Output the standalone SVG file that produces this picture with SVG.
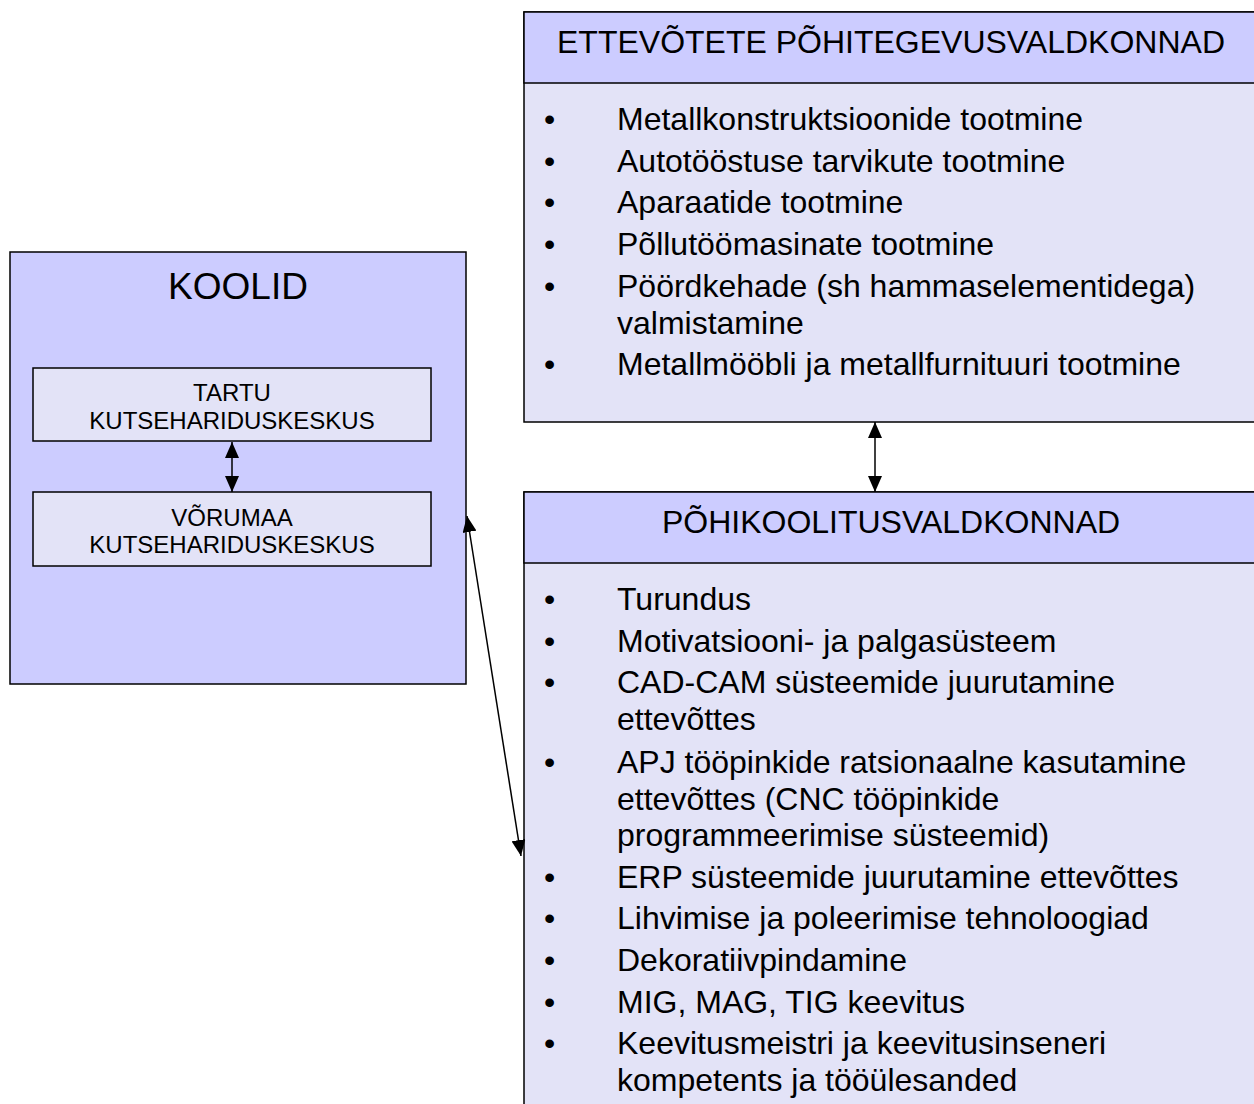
<svg xmlns="http://www.w3.org/2000/svg" width="1254" height="1104" viewBox="0 0 1254 1104">
<style>
.hdr{fill:#CCCCFF;stroke:#000;stroke-width:1.5}
.body{fill:#E3E3F7;stroke:#000;stroke-width:1.5}
text{font-family:"Liberation Sans",Arial,sans-serif;fill:#000}
.t32{font-size:32px}
.t36{font-size:37px}
.t24{font-size:24px}
.c{text-anchor:middle}
.conn{stroke:#000;stroke-width:1.5;fill:none;marker-start:url(#ah);marker-end:url(#ah)}
</style>
<defs>
<marker id="ah" markerUnits="userSpaceOnUse" viewBox="0 0 16 14" markerWidth="16" markerHeight="14" refX="16" refY="7" orient="auto-start-reverse">
<path d="M0,0 L16,7 L0,14 z" fill="#000"/>
</marker>
</defs>
<rect width="1254" height="1104" fill="#fff"/>

<g id="koolid">
<rect class="hdr" x="10" y="252" width="456" height="432"/>
<text class="t36 c" x="238" y="299">KOOLID</text>
</g>
<g id="tartu">
<rect class="body" x="33" y="368" width="398" height="73"/>
<text class="t24 c" x="232" y="401">TARTU</text>
<text class="t24 c" x="232" y="429">KUTSEHARIDUSKESKUS</text>
</g>
<g id="vorumaa">
<rect class="body" x="33" y="492" width="398" height="74"/>
<text class="t24 c" x="232" y="526">VÕRUMAA</text>
<text class="t24 c" x="232" y="553">KUTSEHARIDUSKESKUS</text>
</g>

<g id="ettevotted">
<rect class="body" x="524" y="12" width="740" height="410"/>
<rect class="hdr" x="524" y="12" width="740" height="71"/>
<text class="t32 c" x="891" y="53">ETTEVÕTETE PÕHITEGEVUSVALDKONNAD</text>
<g class="t32">
<text x="544" y="130">•</text><text x="617" y="130">Metallkonstruktsioonide tootmine</text>
<text x="544" y="172">•</text><text x="617" y="172">Autotööstuse tarvikute tootmine</text>
<text x="544" y="213">•</text><text x="617" y="213">Aparaatide tootmine</text>
<text x="544" y="255">•</text><text x="617" y="255">Põllutöömasinate tootmine</text>
<text x="544" y="297">•</text><text x="617" y="297">Pöördkehade (sh hammaselementidega)</text>
<text x="617" y="334">valmistamine</text>
<text x="544" y="375">•</text><text x="617" y="375">Metallmööbli ja metallfurnituuri tootmine</text>
</g>
</g>

<g id="koolitus">
<rect class="body" x="524" y="492" width="740" height="630"/>
<rect class="hdr" x="524" y="492" width="740" height="71"/>
<text class="t32 c" x="891" y="533">PÕHIKOOLITUSVALDKONNAD</text>
<g class="t32">
<text x="544" y="610">•</text><text x="617" y="610">Turundus</text>
<text x="544" y="652">•</text><text x="617" y="652">Motivatsiooni- ja palgasüsteem</text>
<text x="544" y="693">•</text><text x="617" y="693">CAD-CAM süsteemide juurutamine</text>
<text x="617" y="730">ettevõttes</text>
<text x="544" y="773">•</text><text x="617" y="773">APJ tööpinkide ratsionaalne kasutamine</text>
<text x="617" y="810">ettevõttes (CNC tööpinkide</text>
<text x="617" y="846">programmeerimise süsteemid)</text>
<text x="544" y="888">•</text><text x="617" y="888">ERP süsteemide juurutamine ettevõttes</text>
<text x="544" y="929">•</text><text x="617" y="929">Lihvimise ja poleerimise tehnoloogiad</text>
<text x="544" y="971">•</text><text x="617" y="971">Dekoratiivpindamine</text>
<text x="544" y="1013">•</text><text x="617" y="1013">MIG, MAG, TIG keevitus</text>
<text x="544" y="1054">•</text><text x="617" y="1054">Keevitusmeistri ja keevitusinseneri</text>
<text x="617" y="1091">kompetents ja tööülesanded</text>
</g>
</g>

<g id="connectors">
<line class="conn" x1="232" y1="442" x2="232" y2="492"/>
<line class="conn" x1="875" y1="422" x2="875" y2="492"/>
<line class="conn" x1="467" y1="516" x2="521" y2="856"/>
</g>
</svg>
